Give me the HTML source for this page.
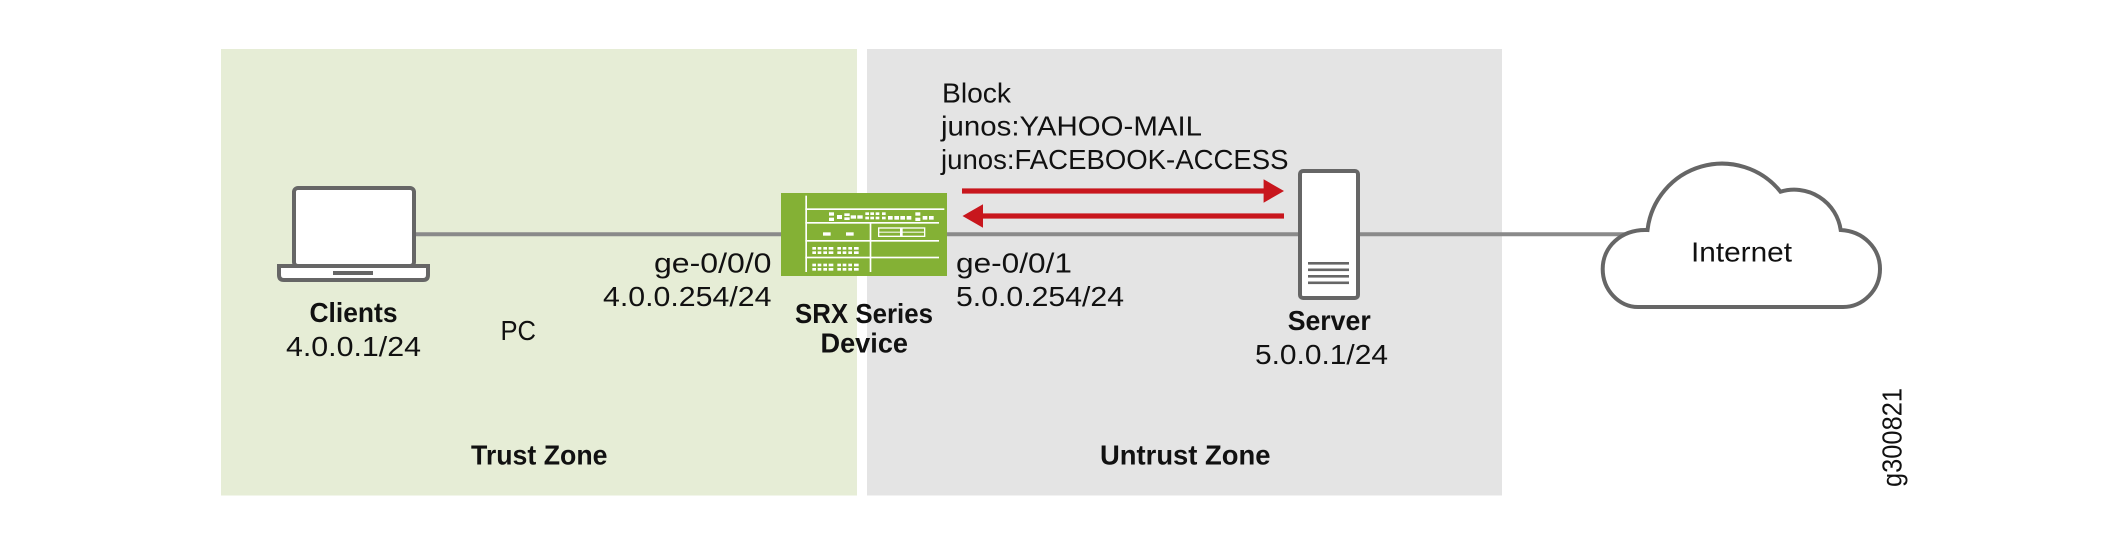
<!DOCTYPE html>
<html><head><meta charset="utf-8"><style>
html,body{margin:0;padding:0;background:#fff}
svg{display:block}
text{font-family:"Liberation Sans",sans-serif;fill:#111;font-size:28px}
.b{font-weight:bold}
</style></head><body>
<svg width="2101" height="545" viewBox="0 0 2101 545" xmlns="http://www.w3.org/2000/svg">
<rect width="2101" height="545" fill="#fff"/>
<rect x="221" y="49" width="636" height="446.5" fill="#e6edd6"/>
<rect x="867" y="49" width="635" height="446.5" fill="#e4e4e4"/>
<!-- links -->
<line x1="412" y1="234.3" x2="782" y2="234.3" stroke="#8a8a8a" stroke-width="4"/>
<line x1="946" y1="234.3" x2="1625" y2="234.3" stroke="#8a8a8a" stroke-width="4"/>
<!-- laptop -->
<rect x="294" y="188" width="120" height="78" rx="4" fill="#fff" stroke="#666" stroke-width="4"/>
<path d="M279 266H428V275Q428 280 423 280H284Q279 280 279 275Z" fill="#fff" stroke="#666" stroke-width="4"/>
<rect x="333" y="271" width="40" height="4" fill="#666"/>
<!-- SRX -->
<rect x="781" y="193" width="166" height="83" fill="#84b135"/>
<g transform="translate(760,180) scale(.33333)" fill="#fff" stroke="none">
<rect x="136" y="47" width="5" height="229"/>
<rect x="136" y="85" width="417" height="5"/>
<rect x="136" y="126" width="401" height="5"/>
<rect x="136" y="180" width="401" height="5"/>
<rect x="136" y="230" width="401" height="5"/>
<rect x="329" y="126" width="5" height="150"/>
<rect x="207" y="97" width="15" height="10"/><rect x="207" y="113" width="15" height="10"/>
<rect x="231" y="105" width="15" height="12"/>
<rect x="253" y="100" width="16" height="8"/><rect x="253" y="112" width="16" height="8"/>
<rect x="272" y="106" width="16" height="10"/><rect x="292" y="106" width="16" height="10"/>
<rect x="316" y="97" width="11" height="8"/><rect x="331" y="97" width="11" height="8"/><rect x="347" y="97" width="11" height="8"/><rect x="366" y="97" width="11" height="8"/>
<rect x="316" y="110" width="11" height="8"/><rect x="331" y="110" width="11" height="8"/><rect x="347" y="110" width="11" height="8"/><rect x="366" y="110" width="11" height="8"/>
<rect x="384" y="108" width="14" height="11"/><rect x="403" y="108" width="14" height="11"/><rect x="421" y="108" width="14" height="11"/><rect x="440" y="108" width="14" height="11"/>
<rect x="466" y="97" width="15" height="10"/><rect x="466" y="113" width="15" height="10"/>
<rect x="488" y="108" width="14" height="11"/><rect x="507" y="108" width="14" height="11"/>
<rect x="189" y="157" width="23" height="10"/><rect x="258" y="157" width="23" height="10"/>
<g id="p">
<rect x="157" y="201" width="11" height="8"/><rect x="173" y="201" width="11" height="8"/><rect x="190" y="201" width="11" height="8"/><rect x="206" y="201" width="14" height="8"/>
<rect x="232" y="201" width="11" height="8"/><rect x="248" y="201" width="11" height="8"/><rect x="265" y="201" width="11" height="8"/><rect x="282" y="201" width="14" height="8"/>
<rect x="157" y="214" width="11" height="8"/><rect x="173" y="214" width="11" height="8"/><rect x="190" y="214" width="11" height="8"/><rect x="206" y="214" width="14" height="8"/>
<rect x="232" y="214" width="11" height="8"/><rect x="248" y="214" width="11" height="8"/><rect x="265" y="214" width="11" height="8"/><rect x="282" y="214" width="14" height="8"/>
</g>
<use href="#p" y="50"/>
<rect x="356" y="144" width="138" height="25" fill="none" stroke="#fff" stroke-width="4"/>
<rect x="356" y="155" width="138" height="3"/>
<rect x="420" y="144" width="8" height="25"/>
</g>
<!-- server -->
<rect x="1300" y="171" width="58" height="127" rx="3" fill="#fff" stroke="#666" stroke-width="4"/>
<g fill="#666"><rect x="1308" y="262" width="41" height="2.6"/><rect x="1308" y="268.5" width="41" height="2.6"/><rect x="1308" y="275" width="41" height="2.6"/><rect x="1308" y="281.5" width="41" height="2.6"/></g>
<!-- arrows -->
<g fill="#c8161d">
<rect x="962" y="188.4" width="303" height="5.2"/><path d="M1263.6 179.3L1284 191L1263.6 202.7Z"/>
<rect x="981" y="213.4" width="303" height="5.2"/><path d="M983 204.3L962.5 216L983 227.7Z"/>
</g>
<!-- cloud -->
<path d="M1647.5 230A75 75 0 0 1 1780.5 191.7A47 47 0 0 1 1840.7 230C1863 231 1880 248 1880 269C1880 290 1863 307 1843 307H1638C1619 307 1602.7 290 1602.7 269C1602.7 247 1621 229 1647.5 230Z" fill="#fff" stroke="#666" stroke-width="4" stroke-linejoin="miter"/>
<!-- labels -->
<text class="b" x="309.5" y="322" textLength="88" lengthAdjust="spacingAndGlyphs">Clients</text>
<text x="286" y="356" textLength="135" lengthAdjust="spacingAndGlyphs">4.0.0.1/24</text>
<text x="500.5" y="340" textLength="35.5" lengthAdjust="spacingAndGlyphs">PC</text>
<text x="654" y="272.7" textLength="117.5" lengthAdjust="spacingAndGlyphs">ge-0/0/0</text>
<text x="603" y="306" textLength="168.5" lengthAdjust="spacingAndGlyphs">4.0.0.254/24</text>
<text class="b" x="795" y="323" textLength="138" lengthAdjust="spacingAndGlyphs">SRX Series</text>
<text class="b" x="820.5" y="352.7" textLength="87.5" lengthAdjust="spacingAndGlyphs">Device</text>
<text class="b" x="471" y="464.3" textLength="136.5" lengthAdjust="spacingAndGlyphs">Trust Zone</text>
<text x="942" y="102.3" textLength="69" lengthAdjust="spacingAndGlyphs">Block</text>
<text x="941" y="135.7" textLength="261" lengthAdjust="spacingAndGlyphs">junos:YAHOO-MAIL</text>
<text x="941" y="169" textLength="347.5" lengthAdjust="spacingAndGlyphs">junos:FACEBOOK-ACCESS</text>
<text x="956" y="272.7" textLength="116" lengthAdjust="spacingAndGlyphs">ge-0/0/1</text>
<text x="956" y="306" textLength="168" lengthAdjust="spacingAndGlyphs">5.0.0.254/24</text>
<text class="b" x="1287.7" y="330" textLength="83" lengthAdjust="spacingAndGlyphs">Server</text>
<text x="1255" y="364" textLength="133" lengthAdjust="spacingAndGlyphs">5.0.0.1/24</text>
<text class="b" x="1100" y="464.3" textLength="170.5" lengthAdjust="spacingAndGlyphs">Untrust Zone</text>
<text x="1691" y="261.7" textLength="101" lengthAdjust="spacingAndGlyphs">Internet</text>
<text transform="translate(1901.7,487) rotate(-90)" x="0" y="0" textLength="99" lengthAdjust="spacingAndGlyphs">g300821</text>
</svg>
</body></html>
